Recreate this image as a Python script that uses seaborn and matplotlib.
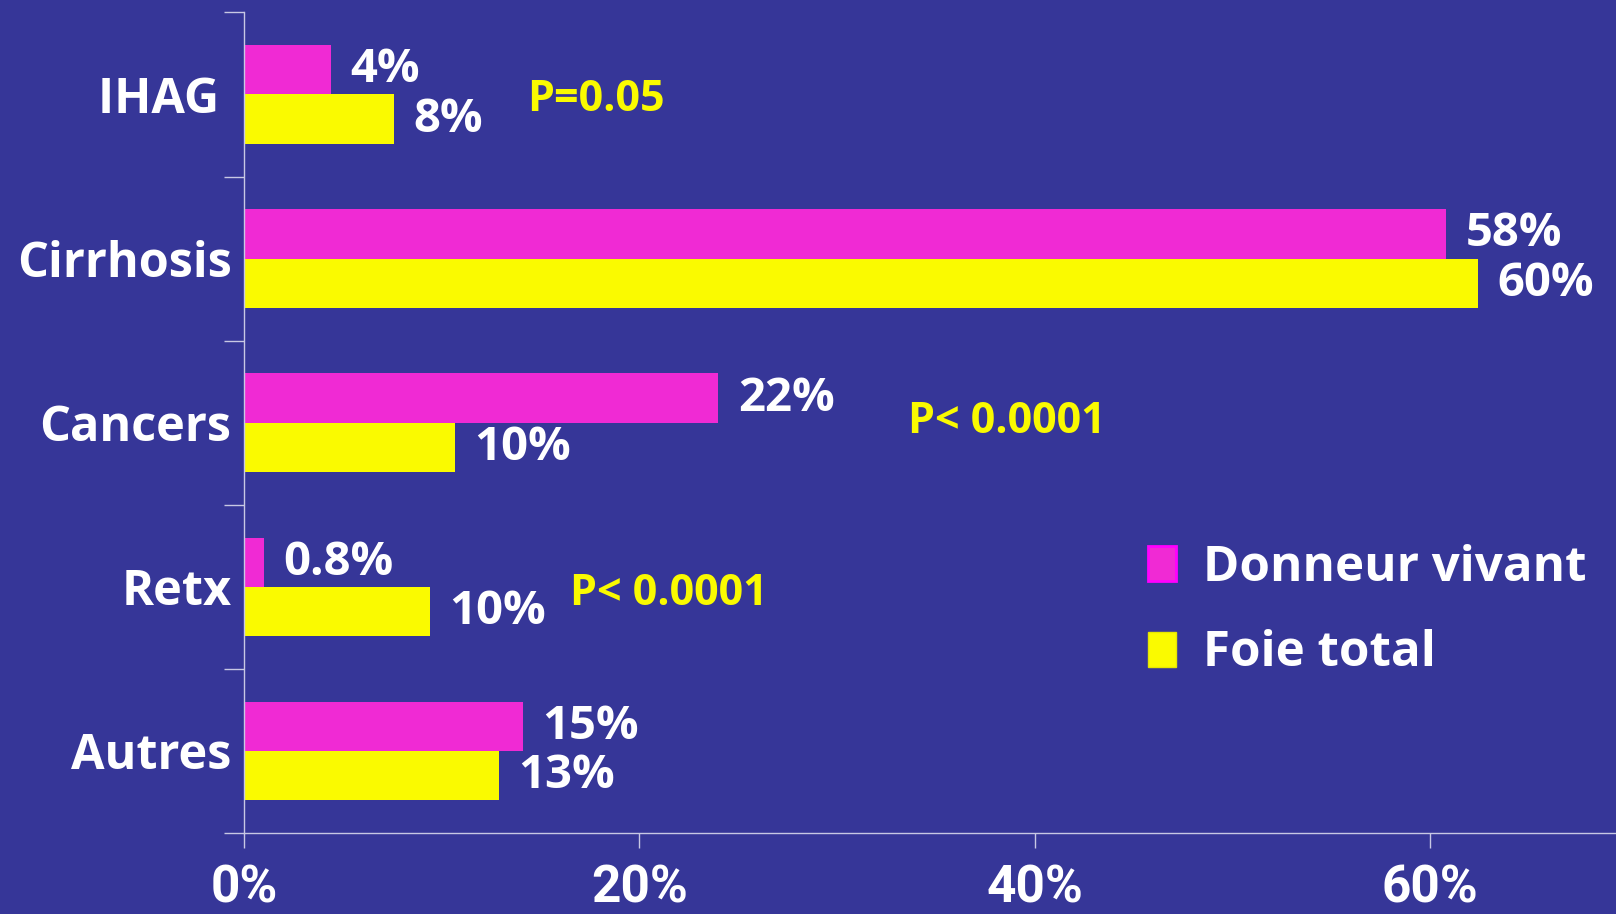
import numpy as np
import pandas as pd
import matplotlib
matplotlib.use("Agg")
import matplotlib.pyplot as plt
import seaborn as sbn
from matplotlib.patches import Patch

# data
categories = ["IHAG ", "Cirrhosis", "Cancers", "Retx", "Autres"]
groups = ["Donneur vivant", "Foie total"]
donneur = [4.4, 60.8, 24.0, 1.0, 14.1]
foie = [7.6, 62.4, 10.65, 9.4, 12.9]
donneur_txt = ["4%", "58%", "22%", "0.8%", "15%"]
foie_txt = ["8%", "60%", "10%", "10%", "13%"]
pvals = ["P=0.05", "P< 0.0001", "P< 0.0001"]
pval_pos = [(14.3, 0.03), (33.6, 1.99), (16.5, 3.04)]
xticks = [0, 20, 40, 60]

bg = "#363698"
pink = "#F02AD4"
yellow = "#FAFA00"
axcol = "#C8C8E4"

sbn.set_style("ticks")
plt.rcParams["font.family"] = ["Open Sans", "DejaVu Sans"]
plt.rcParams["font.weight"] = "bold"

df = pd.DataFrame({
    "cat": categories * 2,
    "val": donneur + foie,
    "grp": [groups[0]] * 5 + [groups[1]] * 5,
})

fig = plt.figure(figsize=(16.16, 9.14), dpi=100, facecolor=bg)
ax = fig.add_axes([0.151, 0.0886, 0.849, 0.8978])
ax.set_facecolor(bg)

sbn.barplot(data=df, y="cat", x="val", hue="grp", palette=[pink, yellow],
            orient="h", width=0.6, saturation=1, legend=False, linewidth=0, ax=ax)

for cont, txt in zip(ax.containers, [donneur_txt, foie_txt]):
    ax.bar_label(cont, labels=txt, padding=14, color="white",
                 fontsize=34, fontweight="bold")

for t, (x, y) in zip(pvals, pval_pos):
    ax.text(x, y, t, color=yellow, fontsize=31, fontweight="bold", va="center")

ax.set_xlim(0, 69.4)
ax.set_ylim(4.5, -0.5)
ax.set_xlabel("")
ax.set_ylabel("")

# tick marks between categories, labels in between
ax.set_yticks(np.arange(-0.5, 5, 1), labels=[""] * 6)
ax.set_yticks(range(5), labels=categories, minor=True)
ax.tick_params(axis="y", which="major", length=14.4, width=1, color=axcol, direction="out")
ax.tick_params(axis="y", which="minor", length=0, pad=9, labelsize=35, labelcolor="white")
for lab in ax.get_yticklabels(minor=True):
    lab.set_fontweight("bold")

ax.set_xticks(xticks, labels=[f"{v}%" for v in xticks])
ax.tick_params(axis="x", length=10.8, width=1, color=axcol, pad=11,
               labelsize=37, labelcolor="white")
for lab in ax.get_xticklabels():
    lab.set_family(["Roboto", "DejaVu Sans"])
    lab.set_fontweight("bold")

for s in ["top", "right"]:
    ax.spines[s].set_visible(False)
for s in ["left", "bottom"]:
    ax.spines[s].set_color(axcol)
    ax.spines[s].set_linewidth(1)

handles = [Patch(facecolor=pink, edgecolor="#FF00FF", linewidth=2),
           Patch(facecolor=yellow, edgecolor="#E6E600", linewidth=1)]
leg = fig.legend(handles, groups, loc="center left", bbox_to_anchor=(1148 / 1616, 0.3315),
                 frameon=False, fontsize=35.5, handlelength=0.57, handleheight=0.72,
                 handletextpad=0.55, labelspacing=0.75, borderpad=0, borderaxespad=0)
for t in leg.get_texts():
    t.set_color("white")
    t.set_fontweight("bold")

fig.savefig("out.png", dpi=100, facecolor=bg)
